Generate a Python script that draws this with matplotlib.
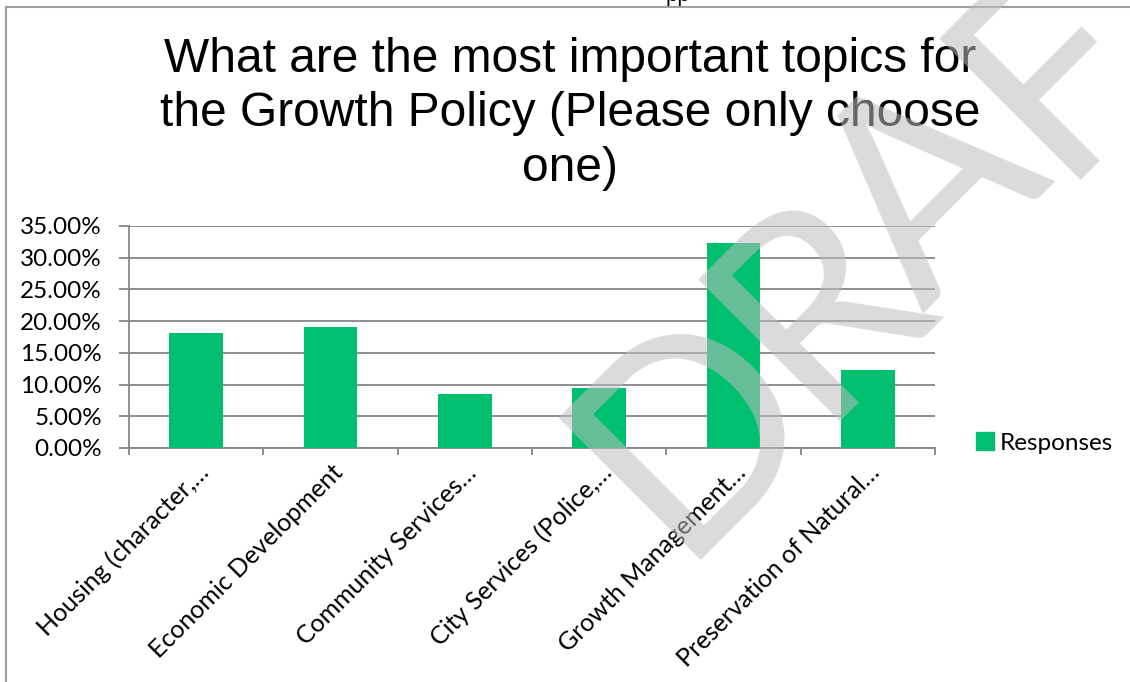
import math
import matplotlib
matplotlib.use("Agg")
import matplotlib.pyplot as plt
from matplotlib.ticker import FuncFormatter, FixedLocator
from matplotlib.lines import Line2D

# survey results
topics = [
    "Housing (character,\u2026",
    "Economic Development",
    "Community Services\u2026",
    "City Services (Police,\u2026",
    "Growth Management\u2026",
    "Preservation of Natural\u2026",
]
responses = [0.181, 0.191, 0.085, 0.095, 0.323, 0.123]
yticks = [0.0, 0.05, 0.10, 0.15, 0.20, 0.25, 0.30, 0.35]

title = "What are the most important topics for\nthe Growth Policy (Please only choose\none)"

BAR = "#00BF6F"
AXIS = "#868686"
LABEL_FONT = ["Lato", "DejaVu Sans"]
LABEL_SIZE = 17.5

W, H = 1130, 682
fig = plt.figure(figsize=(W / 100, H / 100), dpi=100)

# axes box in pixels: left 129, right 935, top 226, bottom 448
ax = fig.add_axes([129 / W, 1 - 448 / H, (935 - 129) / W, (448 - 226) / H])

x = list(range(len(topics)))
ax.bar(x, responses, width=0.4, color=BAR, zorder=3)

ax.set_xlim(-0.5, len(topics) - 0.5)
ax.set_ylim(0, 0.35)
ax.set_yticks(yticks)
ax.yaxis.set_major_formatter(FuncFormatter(lambda v, _: f"{v * 100:.2f}%"))
ax.grid(axis="y", color=AXIS, linewidth=1.3, zorder=0)

# category boundaries get the tick marks, labels sit at the bar centres
ax.xaxis.set_major_locator(FixedLocator([i - 0.5 for i in range(len(topics) + 1)]))
ax.set_xticklabels([])
ax.set_xticks(x, minor=True)
ax.set_xticklabels(topics, minor=True, rotation=45, ha="right", va="top",
                   rotation_mode="anchor", fontsize=18, family=LABEL_FONT)
ax.tick_params(axis="x", which="minor", length=0, pad=9)
ax.tick_params(axis="x", which="major", length=5, width=1.3, color=AXIS)
ax.tick_params(axis="y", length=7.5, width=1.3, color=AXIS, pad=12)
for lbl in ax.get_yticklabels():
    lbl.set_fontsize(LABEL_SIZE)
    lbl.set_family(LABEL_FONT)

for side in ["top", "right"]:
    ax.spines[side].set_visible(False)
for side in ["left", "bottom"]:
    ax.spines[side].set_color(AXIS)
    ax.spines[side].set_linewidth(1.3)

# legend
ax.legend([plt.Rectangle((0, 0), 1, 1, color=BAR)], ["Responses"],
          loc="center left", bbox_to_anchor=(954 / W, 1 - 443 / H),
          bbox_transform=fig.transFigure, frameon=False,
          prop={"family": LABEL_FONT, "size": LABEL_SIZE},
          handlelength=0.75, handleheight=0.75, handletextpad=0.25)

fig.text(570 / W, 1 - 114 / H, title, ha="center", va="center",
         fontsize=34.5, family="Liberation Sans", linespacing=1.28)

# chart frame
fig.add_artist(Line2D([6 / W, 1], [1 - 7 / H, 1 - 7 / H], color="#A0A0A0", lw=1.5))
fig.add_artist(Line2D([6 / W, 6 / W], [0, 1 - 7 / H], color="#A0A0A0", lw=1.5))
fig.text(678 / W, 1 - 1 / H, "pp", ha="center", va="baseline",
         fontsize=16, family="Liberation Sans")

# watermark, one letter at a time along a 45 degree baseline
base_x, base_y = 700, 536
letters = ["D", "R", "A", "F", "T"]
offsets = [72, 250, 409, 582, 716]
for ch, s in zip(letters, offsets):
    px = base_x + s / math.sqrt(2)
    py = base_y - s / math.sqrt(2)
    fig.text(px / W, 1 - py / H, ch, ha="center", va="baseline", rotation=45,
             rotation_mode="anchor", fontsize=201, family="Lato",
             color="#BEBEBE", alpha=0.55, zorder=10)

fig.savefig("out.png", dpi=100)
